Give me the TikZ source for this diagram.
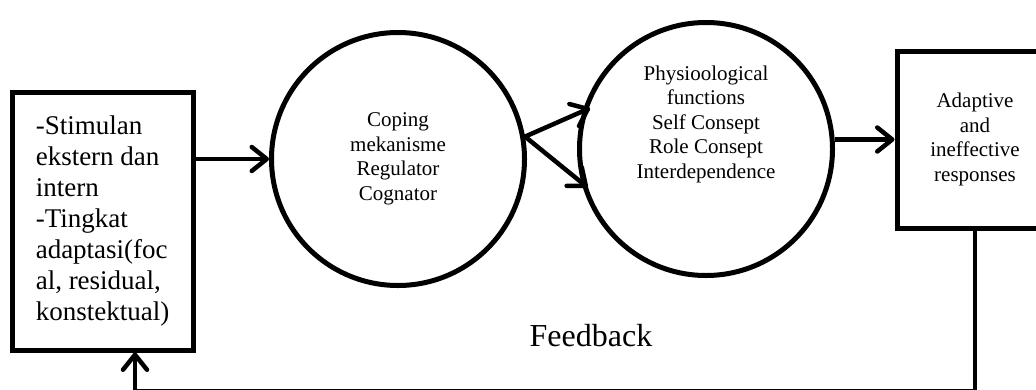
\documentclass[tikz,border=0pt]{standalone}
\usepackage{fontspec}
\setmainfont{Liberation Serif}
\usetikzlibrary{arrows.meta}
\begin{document}
\begin{tikzpicture}[x=1pt,y=-1pt,
  boxshape/.style={draw, line width=5pt, inner sep=0pt},
  circshape/.style={circle, draw, line width=5pt, inner sep=0pt, minimum size=253pt},
  smalltext/.style={align=center, font=\fontsize{21}{24.5}\selectfont},
  conn/.style={line width=4.5pt, -{Straight Barb[length=15pt,width=24pt,round]}},
  plainconn/.style={line width=4.5pt}]
\useasboundingbox (0,0) rectangle (1036,389);
\clip (0,0) rectangle (1036,389);

\node[boxshape, minimum width=181pt, minimum height=258pt, align=left,
      font=\fontsize{27}{31}\selectfont] (lb) at (102.5,221)
  {-Stimulan\\ekstern dan\\intern\\-Tingkat\\adaptasi(foc\\al, residual,\\konstektual)};

\node[circshape, smalltext] (c1) at (398,159) {Coping\\mekanisme\\Regulator\\Cognator};

\node[circshape, label={[smalltext, yshift=25pt]center:{Physioological\\functions\\Self Consept\\Role Consept\\Interdependence}}] (c2) at (706,149) {};

\node[boxshape, smalltext, minimum width=156pt, minimum height=177pt] (rb) at (975,139.5)
  {Adaptive\\and\\ineffective\\responses};

\node[anchor=base, font=\fontsize{32}{36}\selectfont] (fbtext) at (591,346) {Feedback};

\draw[conn] (lb.east |- c1.west) -- (c1.west);
\draw[conn, shorten >=-8pt] (c1.10) -- (c2.163);
\draw[conn, shorten >=-8pt] (c1.10) -- (c2.195);
\draw[conn] (c2.east |- rb.west) -- (rb.west);

\coordinate (fb) at (135,391.5);
\draw[plainconn] (rb.south) |- (fb);
\draw[conn] (fb) -- (fb |- lb.south);
\end{tikzpicture}
\end{document}
